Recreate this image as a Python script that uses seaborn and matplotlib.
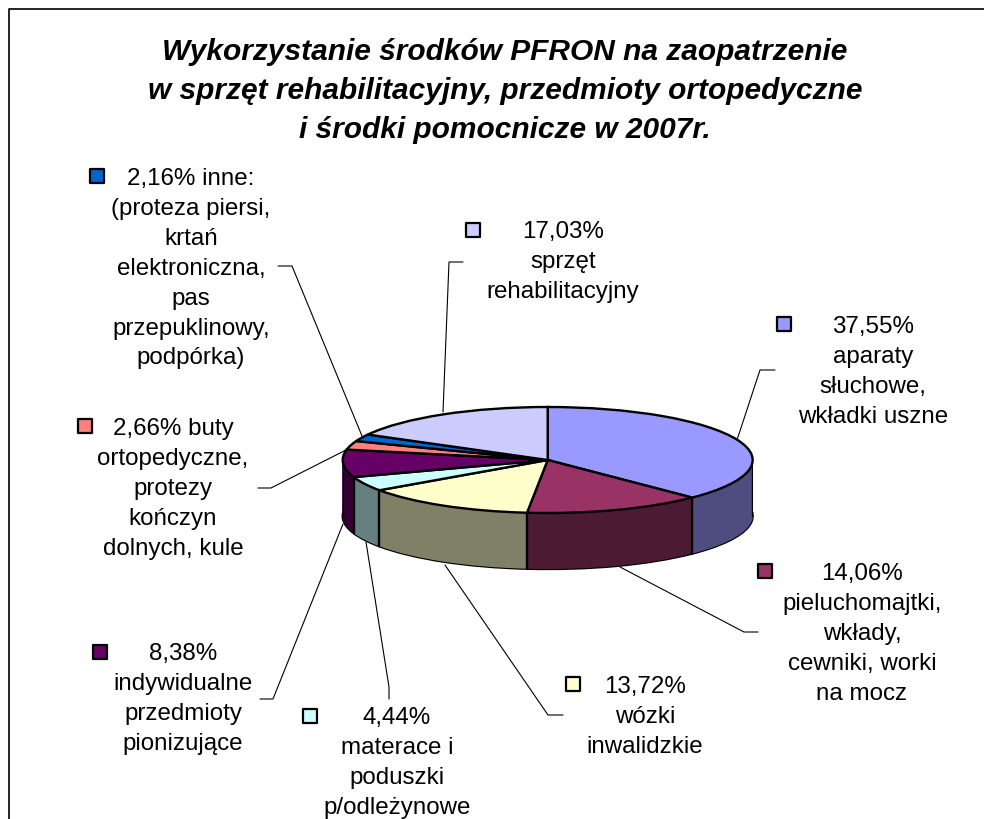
import matplotlib
matplotlib.use('Agg')
import matplotlib.pyplot as plt
import seaborn as sns
import numpy as np

# Data
values = [37.55, 14.06, 13.72, 4.44, 8.38, 2.66, 2.16, 17.03]
top_colors = ['#9999FF', '#993366', '#FFFFCC', '#CCFFFF', '#660066', '#FF8080', '#0066CC', '#CCCCFF']
labels = [
    '37,55%\naparaty\nsłuchowe,\nwkładki uszne',
    '14,06%\npieluchomajtki,\nwkłady,\ncewniki, worki\nna mocz',
    '13,72%\nwózki\ninwalidzkie',
    '4,44%\nmaterace i\npoduszki\np/odleżynowe',
    '8,38%\nindywidualne\nprzedmioty\npionizujące',
    '2,66% buty\nortopedyczne,\nprotezy\nkończyn\ndolnych, kule',
    '2,16% inne:\n(proteza piersi,\nkrtań\nelektroniczna,\npas\nprzepuklinowy,\npodpórka)',
    '17,03%\nsprzęt\nrehabilitacyjny',
]
title = ('Wykorzystanie środków PFRON na zaopatrzenie\n'
         'w sprzęt rehabilitacyjny, przedmioty ortopedyczne\n'
         'i środki pomocnicze w 2007r.')

# Layout in pixels: label centre (x, first line y), key centre, leader line
label_pos = [(873, 326), (862, 573), (645, 686), (397, 717), (183, 653), (173, 428), (191, 178), (563, 231)]
key_pos = [(784, 325), (765, 572), (573, 685), (310, 717), (100, 653), (85, 427), (97, 177), (473, 231)]
leaders = [
    [(775, 371), (760, 371), (737, 441)],
    [(620, 568), (744, 633), (758, 633)],
    [(445, 566), (548, 716), (563, 716)],
    [(366, 543), (389, 688), (389, 700)],
    [(343, 525), (273, 700), (260, 700)],
    [(258, 489), (271, 489), (346, 451)],
    [(278, 267), (292, 267), (362, 437)],
    [(463, 263), (449, 263), (443, 413)],
]

W, H = 984, 820
CX, CY, RX, RY, DEPTH = 547.7, 461, 205, 53, 56

sns.set_theme(style='white')
plt.rcParams['font.family'] = ['Liberation Sans', 'DejaVu Sans']
plt.rcParams['text.color'] = 'black'

fig = plt.figure(figsize=(W / 100, H / 100), dpi=100, facecolor='white')

# Background axes in pixel coordinates, for text and lines
bg = fig.add_axes([0, 0, 1, 1])
bg.set_xlim(0, W)
bg.set_ylim(H, 0)
bg.axis('off')
bg.plot([8.5, 8.5, W + 5], [H + 5, 9.5, 9.5], color='black', lw=1.2)

bg.text(505, 91, title, fontsize=21.5, fontweight='bold', fontstyle='italic',
        ha='center', va='center', linespacing=1.49)

for lab, col, (x, y), (kx, ky), pts in zip(labels, top_colors, label_pos, key_pos, leaders):
    bg.text(x, y - 10, lab, fontsize=17.4, ha='center', va='top', linespacing=1.465)
    bg.scatter([kx], [ky], marker='s', s=95, color=col, edgecolor='black', linewidth=1.6)
    xs, ys = zip(*pts)
    bg.plot(xs, ys, color='black', lw=0.8)

# Pie axes: one unit is RX across and RY down, so the circle becomes the ellipse
d = DEPTH / RY
pie_ax = fig.add_axes([(CX - RX) / W, 1 - (CY + RY + DEPTH) / H, 2 * RX / W, (2 * RY + DEPTH) / H])
pie_ax.patch.set_alpha(0)

side_colors = [tuple(c / 2 for c in matplotlib.colors.to_rgb(col)) for col in top_colors]
edge = {'edgecolor': 'black', 'linewidth': 1.7}

# Side wall: stack of dark pies, bottom one outlined
pie_ax.pie(values, colors=side_colors, startangle=90, counterclock=False,
           center=(0, -d), wedgeprops=edge)
for off in np.arange(d, 0, -0.5 / RY):
    pie_ax.pie(values, colors=side_colors, startangle=90, counterclock=False,
               center=(0, -off), wedgeprops={'linewidth': 0})

# Vertical edges on the front of the wall
angles = np.radians(np.cumsum(values) / 100 * 360)
for a in list(angles[np.cos(angles) < 0]) + [np.pi / 2, 3 * np.pi / 2]:
    pie_ax.plot([np.sin(a)] * 2, [np.cos(a), np.cos(a) - d], color='black', lw=1.7, zorder=5)

# Top face
pie_ax.pie(values, colors=top_colors, startangle=90, counterclock=False,
           wedgeprops={**edge, 'zorder': 6})

pie_ax.set_aspect('auto')
pie_ax.set_xlim(-1, 1)
pie_ax.set_ylim(-1 - d, 1)
pie_ax.axis('off')

fig.savefig('out.png', dpi=100)
plt.close(fig)
